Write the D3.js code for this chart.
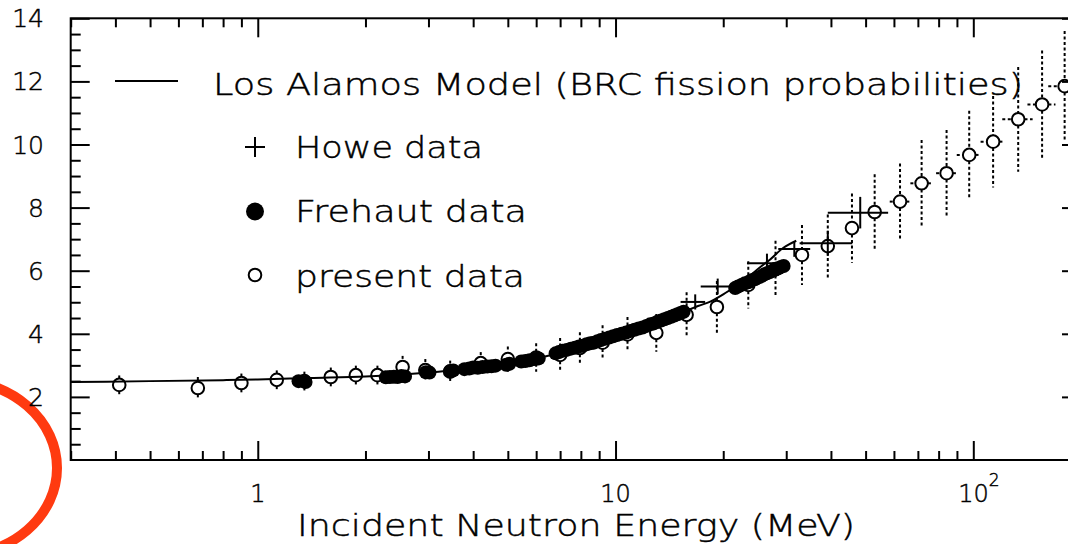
<!DOCTYPE html>
<html>
<head>
<meta charset="utf-8">
<script src="https://cdn.jsdelivr.net/npm/d3@7"></script>
<style>
  html, body { margin: 0; padding: 0; background: #fff; }
  svg { display: block; }
  text { font-family: "DejaVu Sans", "Liberation Sans", sans-serif; font-weight: 200; fill: #000; stroke: #000; stroke-width: 0.45px; }
</style>
</head>
<body>
<svg id="chart" width="1068" height="544"></svg>
<script>
// Los Alamos model curve (BRC fission probabilities)
const modelE  = [0.3, 0.5, 0.8, 1.0, 1.4, 2.0, 3.2, 4.9, 6.6, 7.0, 8.0, 9.0, 10.3, 11.7, 13.3, 15.2, 17.0, 18.4, 20.0, 21.6, 23.5, 25.3, 27.0, 29.4, 32.0];
const modelNu = [2.47, 2.50, 2.53, 2.55, 2.60, 2.65, 2.80, 3.06, 3.33, 3.42, 3.62, 3.80, 4.00, 4.20, 4.40, 4.65, 4.88, 5.02, 5.25, 5.50, 5.80, 6.10, 6.35, 6.72, 6.95];

// Present data (open circles) with vertical and horizontal uncertainties
const presentE    = [0.41, 0.68, 0.90, 1.13, 1.35, 1.60, 1.88, 2.16, 2.54, 2.94, 3.45, 4.2, 5.0, 6.0, 7.0, 7.95, 9.2, 10.8, 13.0, 15.8, 19.2, 23.5, 28.0, 33.2, 39.2, 45.8, 53.0, 62.4, 71.7, 84.2, 97.4, 113.6, 133.5, 155.7, 180.0];
const presentNu   = [2.38, 2.28, 2.44, 2.54, 2.50, 2.63, 2.69, 2.69, 2.95, 2.85, 2.80, 3.07, 3.20, 3.25, 3.33, 3.55, 3.72, 3.98, 4.03, 4.60, 4.85, 5.55, 6.05, 6.50, 6.78, 7.35, 7.86, 8.19, 8.77, 9.09, 9.67, 10.09, 10.80, 11.27, 11.85];
const presentErr  = [0.30, 0.35, 0.30, 0.30, 0.30, 0.30, 0.30, 0.30, 0.35, 0.35, 0.35, 0.35, 0.40, 0.45, 0.54, 0.50, 0.55, 0.55, 0.60, 0.72, 0.82, 0.75, 0.90, 0.95, 1.00, 1.10, 1.20, 1.21, 1.37, 1.37, 1.40, 1.45, 1.66, 1.71, 1.75];
const presentEErr = [0, 0, 0, 0, 0, 0, 0, 0, 0, 0, 0, 0, 0, 0, 0, 0, 0, 0, 0, 0, 0, 0, 0, 0, 0, 0, 0, 4.0, 5.0, 5.5, 7.5, 8.8, 13.0, 14.0, 18.0];

// Frehaut data (filled circles)
const frehautE  = [1.30, 1.36, 2.28, 2.34, 2.40, 2.46, 2.52, 2.58, 2.95, 3.02, 3.45, 3.52,
                   3.78, 3.90, 4.00, 4.12, 4.25, 4.38, 4.50, 4.62, 4.95, 5.05, 5.45, 5.60, 5.75, 5.95, 6.10, 6.80, 6.95,
                   7.1, 7.3, 7.5, 7.7, 7.9, 8.1, 8.3, 8.5, 8.7, 8.9, 9.1, 9.35, 9.6, 9.85, 10.1, 10.4, 10.7, 11.0, 11.3, 11.6, 11.9,
                   12.2, 12.5, 12.8, 13.1, 13.4, 13.7, 14.0, 14.3, 14.6, 14.9, 15.2, 15.5,
                   21.6, 22.0, 22.5, 23.0, 23.5, 24.0, 24.5, 25.0, 25.5, 26.0, 26.5, 27.0, 27.5, 28.0, 28.5, 29.0, 29.5];
const frehautNu = [2.50, 2.47, 2.62, 2.63, 2.64, 2.63, 2.66, 2.65, 2.78, 2.77, 2.82, 2.84,
                   2.88, 2.90, 2.93, 2.92, 2.95, 2.96, 2.97, 2.99, 3.02, 3.05, 3.12, 3.14, 3.16, 3.20, 3.22, 3.38, 3.42,
                   3.46, 3.49, 3.53, 3.56, 3.60, 3.62, 3.67, 3.70, 3.72, 3.76, 3.80, 3.84, 3.88, 3.92, 3.96, 4.00, 4.04, 4.09, 4.13, 4.17, 4.20,
                   4.25, 4.30, 4.33, 4.38, 4.42, 4.46, 4.50, 4.54, 4.58, 4.62, 4.66, 4.70,
                   5.45, 5.50, 5.55, 5.60, 5.63, 5.70, 5.73, 5.78, 5.82, 5.88, 5.92, 5.96, 6.00, 6.04, 6.08, 6.12, 6.15];

// Howe data (crosses: energy bin and uncertainty)
const howeE   = [16.7, 19.3, 26.5, 31.6, 39.2, 48.3];
const howeLo  = [15.2, 17.3, 23.3, 28.5, 32.7, 39.2];
const howeHi  = [17.8, 21.3, 30.3, 35.0, 45.9, 57.8];
const howeNu  = [5.01, 5.50, 6.24, 6.69, 6.87, 7.84];
const howeErr = [0.24, 0.25, 0.30, 0.25, 0.40, 0.50];

// Axis ticks and labels
const yMajorTicks = [2, 4, 6, 8, 10, 12, 14];
const xMajorTicks = [1, 10, 100];
const xMajorLabels = [["1", ""], ["10", ""], ["10", "2"]];

const legendItems = ["Los Alamos Model (BRC fission probabilities)", "Howe data", "Frehaut data", "present data"];
const xTitle = "Incident Neutron Energy (MeV)";

const svg = d3.select("#chart");
const plotLeft = 70.7, plotRight = 1081, plotTop = 18.3, plotBottom = 460;

const x = d3.scaleLog().domain([0.3, 200]).range([plotLeft, plotRight]);
const y = d3.scaleLinear().domain([0, 14]).range([plotBottom, plotTop]);

// Red ring annotation at the lower left
svg.append("ellipse")
  .attr("cx", -45).attr("cy", 468).attr("rx", 102).attr("ry", 88)
  .attr("fill", "none").attr("stroke", "#ff3a10").attr("stroke-width", 10);

const plot = svg.append("g");
const axisStroke = 2;

// Frame and ticks
const xMinor = x.ticks().filter(v => !xMajorTicks.includes(v));
const yMinor = d3.range(0.5, 14, 0.5).filter(v => v % 2 !== 0);

function styleAxis(g) {
  g.select(".domain").remove();
  g.selectAll(".tick line").attr("stroke", "#000").attr("stroke-width", axisStroke);
  g.selectAll(".tick text").remove();
}

plot.append("g").attr("transform", `translate(0,${plotBottom})`)
  .call(d3.axisBottom(x).tickValues(xMinor).tickSize(-9)).call(styleAxis);
plot.append("g").attr("transform", `translate(0,${plotBottom})`)
  .call(d3.axisBottom(x).tickValues(xMajorTicks).tickSize(-19)).call(styleAxis);
plot.append("g").attr("transform", `translate(0,${plotTop})`)
  .call(d3.axisTop(x).tickValues(xMinor).tickSize(-9)).call(styleAxis);
plot.append("g").attr("transform", `translate(0,${plotTop})`)
  .call(d3.axisTop(x).tickValues(xMajorTicks).tickSize(-19)).call(styleAxis);
plot.append("g").attr("transform", `translate(${plotLeft},0)`)
  .call(d3.axisLeft(y).tickValues(yMinor).tickSize(-10)).call(styleAxis);
plot.append("g").attr("transform", `translate(${plotLeft},0)`)
  .call(d3.axisLeft(y).tickValues(yMajorTicks).tickSize(-19)).call(styleAxis);
plot.append("g").attr("transform", `translate(${plotRight},0)`)
  .call(d3.axisRight(y).tickValues(yMinor).tickSize(-10)).call(styleAxis);
plot.append("g").attr("transform", `translate(${plotRight},0)`)
  .call(d3.axisRight(y).tickValues(yMajorTicks).tickSize(-19)).call(styleAxis);

plot.append("rect")
  .attr("x", plotLeft).attr("y", plotTop).attr("width", plotRight - plotLeft).attr("height", plotBottom - plotTop)
  .attr("fill", "none").attr("stroke", "#000").attr("stroke-width", axisStroke);

// Tick labels
plot.selectAll(".ylab").data(yMajorTicks).join("text")
  .attr("class", "ylab")
  .attr("x", 44).attr("y", d => y(d) + 9)
  .attr("text-anchor", "end").attr("font-size", 25)
  .text(d => d);

xMajorTicks.forEach((v, i) => {
  const [base, sup] = xMajorLabels[i];
  const t = plot.append("text")
    .attr("x", x(v)).attr("y", 502)
    .attr("text-anchor", "middle").attr("font-size", 24);
  t.append("tspan").text(base);
  if (sup) {
    t.attr("text-anchor", "start").attr("x", x(v) - 15);
    t.append("tspan").attr("dy", -16).attr("font-size", 17).text(sup);
  }
});

plot.append("text")
  .attr("x", 297).attr("y", 536)
  .attr("font-size", 31)
  .attr("textLength", 558).attr("lengthAdjust", "spacingAndGlyphs")
  .text(xTitle);

// Model curve
const line = d3.line().x((d, i) => x(modelE[i])).y(d => y(d)).curve(d3.curveMonotoneX);
plot.append("path").datum(modelNu)
  .attr("d", line).attr("fill", "none").attr("stroke", "#000").attr("stroke-width", 2);

// Frehaut data
plot.append("g").selectAll("circle").data(frehautE).join("circle")
  .attr("cx", d => x(d)).attr("cy", (d, i) => y(frehautNu[i])).attr("r", 7)
  .attr("fill", "#000");

// Present data with dashed error bars
const r0 = 6.3;
const pres = plot.append("g");
presentE.forEach((e, i) => {
  const cx = x(e), cy = y(presentNu[i]);
  const yHi = y(presentNu[i] + presentErr[i]), yLo = y(presentNu[i] - presentErr[i]);
  const dash = "3,2.5";
  if (cy - r0 > yHi) pres.append("line").attr("x1", cx).attr("x2", cx).attr("y1", yHi).attr("y2", cy - r0)
    .attr("stroke", "#000").attr("stroke-width", 2).attr("stroke-dasharray", dash);
  if (yLo > cy + r0) pres.append("line").attr("x1", cx).attr("x2", cx).attr("y1", cy + r0).attr("y2", yLo)
    .attr("stroke", "#000").attr("stroke-width", 2).attr("stroke-dasharray", dash);
  if (presentEErr[i] > 0) {
    const xl = x(e - presentEErr[i]), xr = x(e + presentEErr[i]);
    pres.append("line").attr("x1", xl).attr("x2", cx - r0).attr("y1", cy).attr("y2", cy)
      .attr("stroke", "#000").attr("stroke-width", 2).attr("stroke-dasharray", dash);
    pres.append("line").attr("x1", cx + r0).attr("x2", xr).attr("y1", cy).attr("y2", cy)
      .attr("stroke", "#000").attr("stroke-width", 2).attr("stroke-dasharray", dash);
  }
  pres.append("circle").attr("cx", cx).attr("cy", cy).attr("r", r0)
    .attr("fill", "none").attr("stroke", "#000").attr("stroke-width", 2);
});

// Howe data crosses
const howe = plot.append("g").attr("stroke", "#000").attr("stroke-width", 2);
howeE.forEach((e, i) => {
  howe.append("line").attr("x1", x(howeLo[i])).attr("x2", x(howeHi[i]))
    .attr("y1", y(howeNu[i])).attr("y2", y(howeNu[i]));
  howe.append("line").attr("x1", x(e)).attr("x2", x(e))
    .attr("y1", y(howeNu[i] + howeErr[i])).attr("y2", y(howeNu[i] - howeErr[i]));
});

// Legend
const lg = svg.append("g");
lg.append("line").attr("x1", 115).attr("x2", 178).attr("y1", 81).attr("y2", 81)
  .attr("stroke", "#000").attr("stroke-width", 2);
lg.append("line").attr("x1", 245).attr("x2", 265).attr("y1", 147).attr("y2", 147)
  .attr("stroke", "#000").attr("stroke-width", 2);
lg.append("line").attr("x1", 255).attr("x2", 255).attr("y1", 137).attr("y2", 157)
  .attr("stroke", "#000").attr("stroke-width", 2);
lg.append("circle").attr("cx", 255).attr("cy", 211.5).attr("r", 9).attr("fill", "#000");
lg.append("circle").attr("cx", 255).attr("cy", 275).attr("r", 6.3)
  .attr("fill", "none").attr("stroke", "#000").attr("stroke-width", 2);

const legendPos = [[213, 95, 810], [295, 158, 188], [295, 222, 232], [295, 287, 230]];
legendItems.forEach((txt, i) => {
  lg.append("text")
    .attr("x", legendPos[i][0]).attr("y", legendPos[i][1])
    .attr("font-size", 30)
    .attr("textLength", legendPos[i][2]).attr("lengthAdjust", "spacingAndGlyphs")
    .text(txt);
});
</script>
</body>
</html>
